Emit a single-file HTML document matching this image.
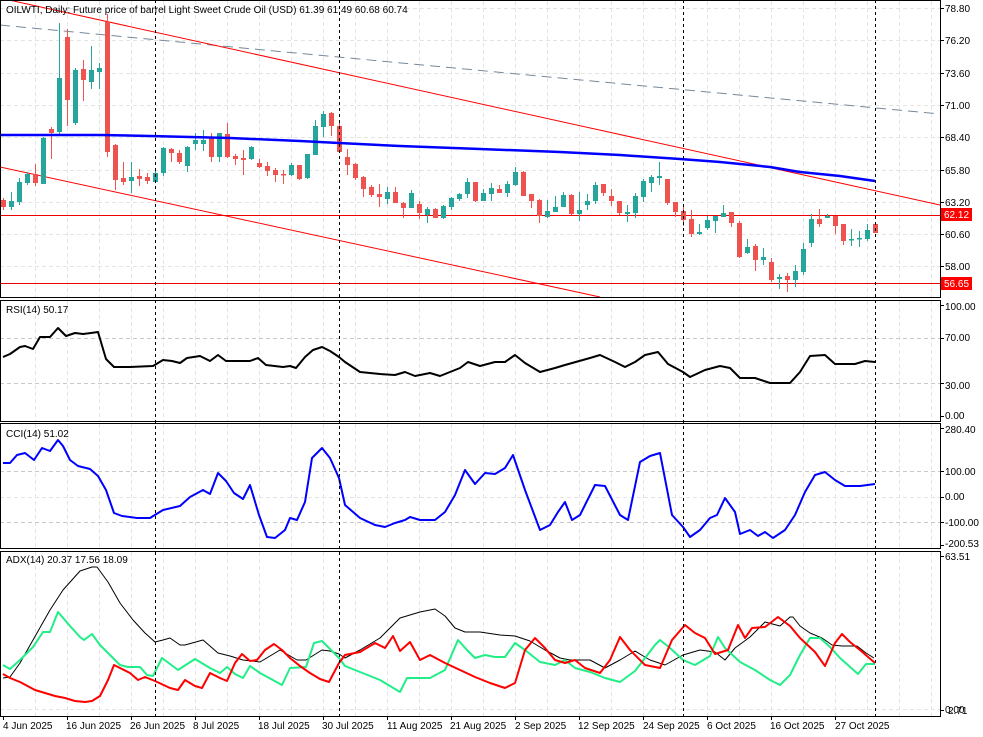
<!DOCTYPE html>
<html><head><meta charset="utf-8"><style>
html,body{margin:0;padding:0;background:#fff;}
svg{display:block;font-family:"Liberation Sans",sans-serif;font-size:10px;}
</style></head><body>
<svg id="s" width="983" height="737" xmlns="http://www.w3.org/2000/svg">
<g id="grid"></g>
<g id="main"></g>
<g fill="#000">
<text x="6" y="13">OILWTI, Daily:  Future price of barrel Light Sweet Crude Oil (USD)  61.39 61.49 60.68 60.74</text>
<text x="6" y="313">RSI(14) 50.17</text>
<text x="6" y="437">CCI(14) 51.02</text>
<text x="6" y="563">ADX(14) 20.37 17.56 18.09</text>
<text x="945" y="12">78.80</text><text x="945" y="44">76.20</text><text x="945" y="77">73.60</text>
<text x="945" y="109">71.00</text><text x="945" y="141">68.40</text><text x="945" y="174">65.80</text>
<text x="945" y="206">63.20</text><text x="945" y="238">60.60</text><text x="945" y="270">58.00</text>
<text x="945" y="310">100.00</text><text x="945" y="341">70.00</text><text x="945" y="389">30.00</text><text x="945" y="419">0.00</text>
<text x="945" y="433">280.40</text><text x="945" y="475">100.00</text><text x="945" y="500">0.00</text><text x="945" y="526">-100.00</text><text x="945" y="547">-200.53</text>
<text x="945" y="560">63.51</text><text x="945" y="713">0.00</text><text x="948" y="714">2.71</text>
</g>
<rect x="941" y="208" width="31" height="13" fill="#f00"/><text x="944" y="218" fill="#fff">62.12</text>
<rect x="941" y="277" width="31" height="13" fill="#f00"/><text x="944" y="287" fill="#fff">56.65</text>
<g fill="#000">
<text x="3" y="729">4 Jun 2025</text><text x="66" y="729">16 Jun 2025</text><text x="130" y="729">26 Jun 2025</text>
<text x="193" y="729">8 Jul 2025</text><text x="258" y="729">18 Jul 2025</text><text x="322" y="729">30 Jul 2025</text>
<text x="387" y="729">11 Aug 2025</text><text x="450" y="729">21 Aug 2025</text><text x="515" y="729">2 Sep 2025</text>
<text x="578" y="729">12 Sep 2025</text><text x="643" y="729">24 Sep 2025</text><text x="707" y="729">6 Oct 2025</text>
<text x="770" y="729">16 Oct 2025</text><text x="835" y="729">27 Oct 2025</text>
</g>
</svg>
<script>
var NS="http://www.w3.org/2000/svg";
function el(p,t,a){var e=document.createElementNS(NS,t);for(var k in a)e.setAttribute(k,a[k]);p.appendChild(e);return e;}
var S=document.getElementById('s'),G=document.getElementById('grid'),M=document.getElementById('main');
var panels=[[1,297],[301,421],[424,548],[552,716]];
// vertical grid
for(var x=35;x<940;x+=32){panels.forEach(function(p){el(G,'line',{x1:x+.5,y1:p[0],x2:x+.5,y2:p[1],stroke:'#e4e4e4','stroke-dasharray':'4,3'});});}
[8,40,73,105,137,170,202,234,266].forEach(function(y){el(G,'line',{x1:0,y1:y+.5,x2:940,y2:y+.5,stroke:'#e4e4e4','stroke-dasharray':'4,3'});});
[338,383,471,522].forEach(function(y){el(G,'line',{x1:0,y1:y+.5,x2:940,y2:y+.5,stroke:'#c8c8c8','stroke-dasharray':'4,3'});});
el(G,'line',{x1:0,y1:497.5,x2:940,y2:497.5,stroke:'#e4e4e4','stroke-dasharray':'4,3'});
el(G,'line',{x1:0,y1:709.5,x2:940,y2:709.5,stroke:'#e4e4e4','stroke-dasharray':'4,3'});
// candles: [open y, close y, high y, low y] green if close<open (y)
var C=[[200,207,198,210,0],[207,201,192,210,1],[202,182,178,205,1],[183,174,172,185,1],[174,183,164,186,0],[184,138,137,184,1],[129,133,127,159,0],[132,78,23,135,1],[37,100,29,126,0],[123,70,68,125,1],[69,80,60,101,0],[82,70,46,89,1],[72,68,63,89,1],[22,152,14,157,0],[145,180,144,190,0],[178,182,162,185,0],[181,177,162,193,1],[176,179,169,186,0],[177,181,173,184,0],[182,173,171,183,1],[173,148,147,176,1],[149,153,148,162,0],[153,162,150,164,0],[166,147,146,172,1],[144,140,133,150,1],[144,140,130,151,1],[138,157,133,162,0],[157,133,133,162,1],[134,157,123,158,0],[156,159,154,165,0],[158,160,150,175,0],[159,147,146,160,1],[163,167,159,168,0],[166,171,162,176,0],[170,175,168,182,0],[174,175,170,184,0],[175,165,163,176,1],[165,179,165,180,0],[178,154,154,179,1],[155,126,120,155,1],[127,114,111,137,1],[113,126,112,136,0],[126,152,122,153,0],[157,165,149,175,0],[164,178,163,180,0],[177,189,176,197,0],[187,195,185,197,0],[194,197,184,207,0],[199,192,187,204,1],[192,203,187,203,0],[203,208,202,218,0],[208,193,190,208,1],[204,213,201,219,0],[215,209,207,223,1],[209,218,208,218,0],[218,206,205,219,1],[207,198,197,210,1],[199,194,193,201,1],[194,182,178,198,1],[182,201,182,202,0],[201,193,189,201,1],[194,188,183,201,1],[189,193,185,193,0],[193,184,181,197,1],[185,172,167,186,1],[172,196,171,196,0],[194,201,194,208,0],[200,216,199,223,0],[217,211,200,218,1],[212,207,196,212,1],[207,195,192,207,1],[195,214,194,215,0],[214,210,192,221,1],[205,201,194,210,1],[201,185,182,204,1],[184,193,184,196,0],[196,201,189,206,0],[201,213,201,215,0],[214,212,205,222,1],[213,196,193,218,1],[197,181,179,202,1],[183,177,175,192,1],[178,176,162,185,1],[179,203,179,205,0],[202,212,202,217,0],[211,220,205,226,0],[219,234,210,237,0],[234,232,224,235,1],[228,220,216,230,1],[221,216,216,233,1],[217,213,205,217,1],[212,223,212,227,0],[223,257,221,258,0],[253,247,239,254,1],[246,260,244,271,0],[260,257,248,265,1],[262,280,258,282,0],[279,277,274,289,1],[276,280,273,292,0],[280,271,265,287,1],[272,249,243,275,1],[243,219,214,247,1],[219,224,209,227,0],[218,216,214,218,1],[216,226,216,234,0],[224,241,224,245,0],[240,239,229,246,1],[239,238,231,247,1],[239,230,224,241,1],[224,233,223,233,0]];
// lines in main
el(M,'line',{x1:0,y1:25,x2:940,y2:114,stroke:'#778899','stroke-dasharray':'10,6'});
el(M,'line',{x1:0,y1:-2,x2:940,y2:205,stroke:'#f00'});
el(M,'line',{x1:0,y1:167,x2:600,y2:297,stroke:'#f00'});
el(M,'line',{x1:0,y1:215.5,x2:940,y2:215.5,stroke:'#e00'});
el(M,'line',{x1:0,y1:283.5,x2:940,y2:283.5,stroke:'#e00'});
C.forEach(function(c,i){var x=3+8*i,col=c[4]?'#26a69a':'#ef5350';
el(M,'line',{x1:x+.5,y1:c[2],x2:x+.5,y2:c[3],stroke:col});
var t=Math.min(c[0],c[1]),h=Math.max(1.5,Math.abs(c[0]-c[1]));
el(M,'rect',{x:x-2,y:t,width:5,height:h,fill:col});});
function pl(pts,col,w){el(S,'polyline',{points:pts,fill:'none',stroke:col,'stroke-width':w,'stroke-linejoin':'round'});}
pl("0,135 100,135 150,136 190,137 230,138 300,141 339,143 400,146 480,149 560,152 620,155 680,159 720,162 770,167 800,172 840,176 875,181",'#00f',2.5);
pl("3,357 10,354 20,347 25,346 33,349 40,337 50,337 58,328 66,336 75,333 83,334 91,333 98,332 106,359 114,367 130,367 153,366 163,360 172,361 180,363 187,358 200,356 210,361 218,355 226,361 250,361 258,358 266,365 283,367 290,366 296,368 305,357 313,350 322,347 330,351 339,357 345,362 360,372 380,374 395,375 405,372 415,376 430,373 440,376 460,368 468,362 480,366 495,362 505,362 515,355 525,363 540,372 555,368 565,365 590,358 600,355 615,362 625,367 635,362 645,355 658,352 668,364 683,372 690,377 705,370 720,366 730,368 740,378 755,378 770,383 790,383 800,372 810,356 825,355 835,364 855,364 865,361 875,362",'#000',2);
pl("3,463 10,463 17,455 25,453 34,460 42,448 50,451 58,440 63,446 70,460 78,466 90,469 98,476 106,490 114,513 122,516 137,518 150,518 163,510 180,506 190,497 203,490 210,494 218,473 226,481 234,493 243,499 250,485 259,515 267,537 275,538 285,530 290,518 297,520 305,502 312,458 322,448 330,458 339,478 345,505 360,518 375,525 385,527 395,523 405,520 410,517 420,520 435,520 445,512 455,495 465,470 475,484 485,473 495,474 505,468 513,455 525,490 540,530 550,525 558,512 565,502 572,520 580,515 595,485 605,486 620,515 628,520 640,462 650,456 660,453 672,515 683,527 690,537 700,530 710,518 717,515 725,498 735,512 740,534 750,530 758,536 765,532 773,538 785,530 795,515 805,492 815,475 825,472 835,480 845,486 860,486 875,484",'#00f',2);
pl("3,678 10,677 20,663 33,640 50,610 63,590 80,571 92,567 97,567 108,582 120,603 133,620 145,633 155,642 163,640 170,638 180,645 185,645 203,640 218,653 230,656 243,660 260,662 280,650 297,660 306,660 322,650 330,651 339,654 345,658 360,650 380,638 400,618 420,612 435,609 445,616 455,628 465,632 480,632 500,635 515,636 530,641 545,650 560,658 570,660 590,660 605,668 620,660 635,651 650,660 665,665 683,655 700,650 715,652 725,660 735,648 750,637 765,622 780,626 790,617 793,617 800,626 810,633 822,638 832,645 842,646 857,646 866,653 874,658",'#000',1);
pl("3,665 10,669 20,660 33,647 43,632 50,632 58,612 70,626 80,637 84,640 92,634 100,645 110,655 120,665 128,667 140,667 147,675 153,676 162,658 178,670 195,659 210,668 220,673 227,667 235,674 243,678 250,666 260,673 282,685 290,668 306,667 314,643 322,641 330,649 339,658 345,666 360,672 380,680 400,692 407,678 415,678 430,678 445,670 458,640 467,650 475,658 485,655 495,657 505,657 515,643 525,650 540,662 555,665 565,660 575,668 590,672 605,678 620,682 635,671 645,658 655,645 660,640 670,648 683,660 695,665 710,656 718,637 725,648 740,662 755,670 770,680 780,685 790,675 800,655 810,638 820,638 830,647 840,658 858,674 866,664 875,664",'#22ee88',2);
pl("3,674 10,678 20,682 35,690 45,693 55,696 65,698 75,701 85,702 92,701 100,696 108,680 114,665 130,673 138,680 145,677 155,681 170,688 178,690 185,680 195,686 202,688 210,673 220,678 227,681 235,663 242,654 250,661 257,660 265,650 274,644 282,650 290,658 300,666 310,673 320,679 329,682 339,663 345,655 360,652 375,643 385,648 393,636 400,651 410,642 420,660 430,655 445,663 460,670 475,677 490,683 505,688 515,683 525,650 535,638 545,648 555,660 565,663 575,660 585,668 600,673 610,660 620,637 630,650 645,665 660,668 672,640 685,625 695,633 705,638 715,654 728,650 738,625 745,638 752,628 765,627 778,617 790,626 800,638 815,652 825,666 835,643 842,634 850,642 860,650 875,663",'#f00',2);
// dashed verticals
[155,339,683,875].forEach(function(x){el(S,'line',{x1:x+.5,y1:0,x2:x+.5,y2:716,stroke:'#000','stroke-dasharray':'3,3'});});
// borders
panels.forEach(function(p){el(S,'rect',{x:.5,y:p[0]-.5,width:940,height:p[1]-p[0]+1,fill:'none',stroke:'#000'});});
// axis ticks
[8,40,73,105,137,170,202,234,266,305,338,383,416,428,471,497,522,545,556,710].forEach(function(y){el(S,'line',{x1:940,y1:y+.5,x2:944,y2:y+.5,stroke:'#000'});});
[3,67,131,195,259,323,387,451,515,579,643,707,771,835].forEach(function(x){el(S,'line',{x1:x+.5,y1:716,x2:x+.5,y2:720,stroke:'#000'});});
</script>
</body></html>
